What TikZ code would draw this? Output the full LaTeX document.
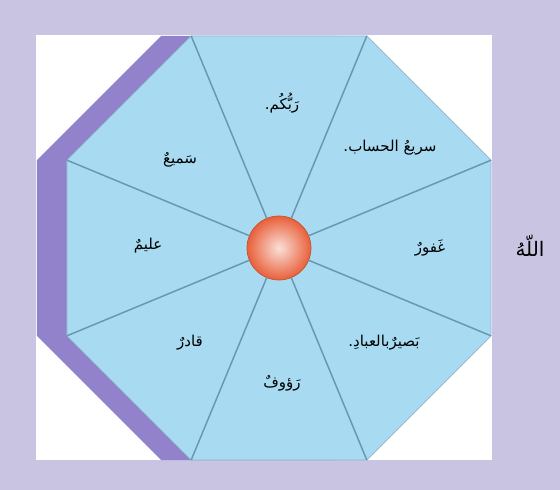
\documentclass[tikz,border=0pt]{standalone}
\usepackage{fontspec}
\usepackage{tikz}
\usetikzlibrary{shapes.geometric,positioning}
\usepackage{xcolor}
\definecolor{framelav}{HTML}{C8C4E2}
\definecolor{octblue}{HTML}{A8DBF2}
\definecolor{octedge}{HTML}{8DB6CA}
\definecolor{spokeblue}{HTML}{6A98B0}
\definecolor{shadowpur}{HTML}{9282CC}
\definecolor{hubred}{HTML}{E8603A}
\newfontfamily\arabicfont[Script=Arabic]{DejaVu Sans}
\TeXXeTstate=1

\begin{document}
\begin{tikzpicture}[
  x=1pt, y=1pt,
  octa/.style={regular polygon, regular polygon sides=8, minimum size=459pt,
               inner sep=0pt, outer sep=0pt},
  shadowoct/.style={octa, fill=shadowpur},
  face/.style={octa, fill=octblue, draw=octedge, line width=0.8pt},
  hub/.style={circle, minimum size=64pt, inner sep=0pt, draw=hubred!85!black,
              line width=0.7pt, inner color=white!80!hubred, outer color=hubred},
  spoke/.style={draw=spokeblue, line width=1.5pt},
  attr/.style={font=\arabicfont\fontsize{15}{17}\selectfont, text=black, inner sep=1pt},
  godname/.style={font=\arabicfont\fontsize{20}{22}\selectfont, text=black},
]
% Frame
\useasboundingbox (0,0) rectangle (560,490);
\fill[framelav] (0,0) rectangle (560,490);
\fill[white] (36,30) rectangle (492,455);

% Octagon with its shadow
\node[shadowoct] (shadow) at (249,242) {};
\node[face] (oct) at (279,242) {};

% Hub and spokes
\node[hub] (hub) at (279,242) {};
\foreach \i in {1,...,8}
  \draw[spoke] (hub) -- (oct.corner \i);

% Attributes
\node[attr] (rabb)  at (282,387) {\beginR رَبُّكُم.\endR};
\node[attr] (sari)  at (390,342) {\beginR سريعُ الحساب.\endR};
\node[attr] (ghaf)  at (430,242) {\beginR غَفورٌ\endR};
\node[attr] (basir) at (384,147) {\beginR بَصيرٌبالعبادِ.\endR};
\node[attr] (rauf)  at (282,107) {\beginR رَؤوفٌ\endR};
\node[attr] (qadir) at (190,147) {\beginR قادرٌ\endR};
\node[attr] (alim)  at (148,244) {\beginR عليمٌ\endR};
\node[attr] (sami)  at (180,330) {\beginR سَميعٌ\endR};

% Name
\node[godname] (allah) at (530,244) {\beginR اللّهُ\endR};

\end{tikzpicture}
\end{document}
